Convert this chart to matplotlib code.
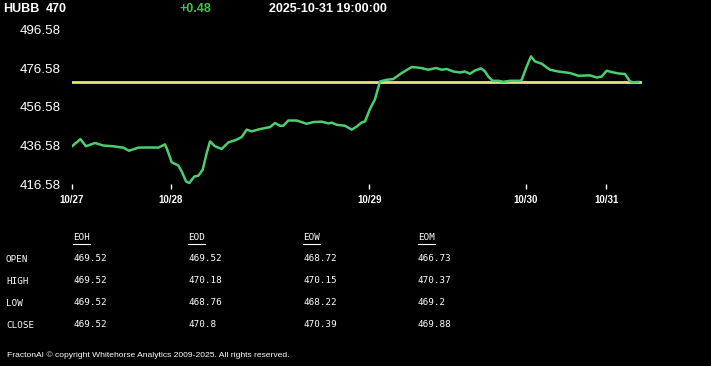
"""HUBB intraday price card: green price line, yellow reference level, OHLC table underneath."""

import matplotlib

matplotlib.use("Agg")
import matplotlib.pyplot as plt

# ---- data ----
ticker = "HUBB"
last_price = "470"
change = "+0.48"
stamp = "2025-10-31 19:00:00"

# bar position (0 = first bar of 10/27) and price
bar_pos = [0, 8.4, 14, 23, 31.3, 41.3, 51.3, 57, 66.3, 76.3,
           86.3, 93, 95.3, 99.7, 106.3, 109.7, 114, 117.3, 122.3, 126.3,
           130.7, 134.7, 138, 143, 149.7, 156.3, 164.7, 169.7, 174.7, 179.7,
           188, 198, 203, 208, 211.3, 216.3, 224.7, 234.7, 241.3, 249.7,
           256.3, 259.7, 264.7, 273, 279.7, 284.7, 289.7, 293, 298, 303,
           308, 314.7, 321.3, 329.7, 339.7, 348, 356.3, 364, 369.7, 374.7,
           381.3, 388, 393, 398, 403, 409, 413, 416.3, 420.7, 426.3,
           431.3, 438, 448, 449.7, 454.7, 459, 463, 469.7, 478, 486.3,
           498, 506.3, 518, 524.7, 529.7, 534.7, 539.7, 546.3, 553, 558,
           561.3, 566.3]
price = [436.2, 439.9, 436.2, 437.9, 436.6, 436.2, 435.5, 433.9, 435.5, 435.6,
         435.5, 437.2, 434.4, 427.9, 426.3, 423.2, 418.1, 417.2, 420.6, 421.0,
         424.1, 432.7, 438.7, 436.2, 434.8, 438.2, 439.6, 441.0, 444.8, 443.9,
         445.1, 446.1, 448.2, 446.8, 446.8, 449.5, 449.5, 447.8, 448.7, 448.9,
         448.0, 448.4, 447.3, 446.8, 444.8, 446.4, 448.5, 449.0, 455.5, 460.5,
         469.7, 470.5, 470.9, 474.0, 477.1, 476.7, 475.7, 476.6, 475.7, 476.1,
         474.8, 474.3, 474.8, 473.6, 475.3, 476.4, 474.8, 472.2, 470.0, 470.0,
         469.5, 470.0, 470.0, 470.5, 477.4, 482.6, 480.0, 478.8, 475.7, 474.8,
         474.0, 472.6, 472.8, 471.7, 472.2, 475.2, 474.5, 473.8, 473.5, 469.7,
         469.2, 469.4]
ref_level = 469.52

y_ticks = [416.58, 436.58, 456.58, 476.58, 496.58]
date_pos = [0, 98.7, 297.3, 453.7, 534.3]
date_labels = ["10/27", "10/28", "10/29", "10/30", "10/31"]

col_names = ["EOH", "EOD", "EOW", "EOM"]
row_names = ["OPEN", "HIGH", "LOW", "CLOSE"]
open_vals = ["469.52", "469.52", "468.72", "466.73"]
high_vals = ["469.52", "470.18", "470.15", "470.37"]
low_vals = ["469.52", "468.76", "468.22", "469.2"]
close_vals = ["469.52", "470.8", "470.39", "469.88"]

footer = "FractonAI \u00a9 copyright Whitehorse Analytics 2009-2025. All rights reserved."

W, H = 711, 366
SANS = ["Liberation Sans", "DejaVu Sans"]
MONO = ["DejaVu Sans Mono"]


def px(x, y):
    """pixel position (top-left origin) -> figure fraction"""
    return x / W, 1 - y / H


fig = plt.figure(figsize=(W / 100, H / 100), dpi=100)
fig.patch.set_facecolor("black")

# ---- header ----
hdr = dict(fontsize=9, weight="bold", family=SANS, va="center")
fig.text(*px(3, 9), ticker, color="white", **hdr)
fig.text(*px(46, 9), last_price, color="white", **hdr)
fig.text(*px(180, 9), change, color="#3ec43e", **hdr)
fig.text(*px(269, 9), stamp, color="white", **hdr)

# ---- chart ----
left, right = 72, 700
top, bottom = 29.3, 184.3
ax = fig.add_axes([left / W, 1 - bottom / H, (right - left) / W, (bottom - top) / H])
ax.set_facecolor("black")
ax.plot([bar_pos[0], bar_pos[-1] + 2], [ref_level, ref_level], color="#e4e47c", lw=2.0, zorder=2)
ax.plot(bar_pos, price, color="#4ccd6e", lw=1.8, zorder=3, solid_joinstyle="round")
ax.set_xlim(0, right - left)
ax.set_ylim(y_ticks[0], y_ticks[-1])
for s in ax.spines.values():
    s.set_visible(False)
ax.set_yticks(y_ticks)
ax.set_yticklabels([f"{v:.2f}" for v in y_ticks], family=SANS, fontsize=9.6)
ax.tick_params(axis="y", length=0, colors="white", pad=8)
ax.set_xticks(date_pos)
ax.set_xticklabels(date_labels, family=SANS, fontsize=7, weight="bold")
ax.tick_params(axis="x", length=3.5, width=1, colors="white", direction="out", pad=4)

# ---- OHLC table ----
col_x = [73, 188, 303, 418]
row_y = [258.5, 280.5, 302.5, 324.5]
cell = dict(color="white", fontsize=6.7, family=MONO, va="center")
for cx, name in zip(col_x, col_names):
    fig.text(*px(cx, 238), name, **cell)
    fig.add_artist(plt.Line2D([cx / W, (cx + 17) / W], [1 - 244 / H] * 2, color="white", lw=0.8))
for ry, name, vals in zip(row_y, row_names, [open_vals, high_vals, low_vals, close_vals]):
    fig.text(*px(6, ry + 1.5), name, **cell)
    for cx, v in zip(col_x, vals):
        fig.text(*px(cx, ry), v, **cell)

fig.text(*px(7, 355), footer, color="white", fontsize=6.1, family=SANS, va="center")

fig.savefig("out.png", dpi=100, facecolor="black")
